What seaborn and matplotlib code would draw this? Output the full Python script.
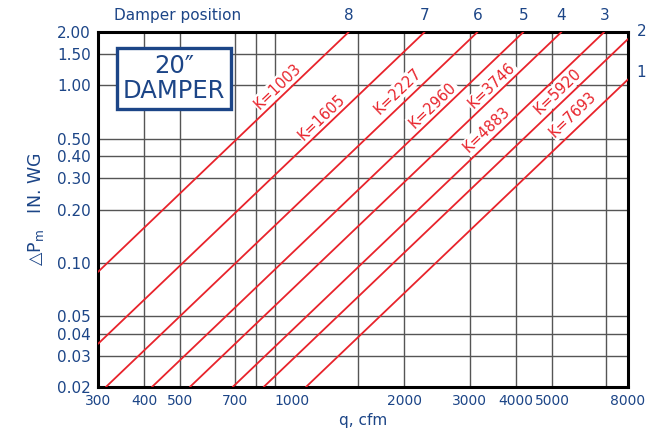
import numpy as np
import pandas as pd
import matplotlib
matplotlib.use("Agg")
import matplotlib.pyplot as plt
import matplotlib.transforms as mtransforms
import seaborn as sns

# curvas do damper 20"
K_LABELS = ["K=1003", "K=1605", "K=2227", "K=2960", "K=3746", "K=4883", "K=5920", "K=7693"]
Q_START = [300, 300, 315, 419, 530, 691, 837, 1088]
DP_START = [0.089, 0.035, 0.02, 0.02, 0.02, 0.02, 0.02, 0.02]
Q_END = [1418, 2270, 3150, 4186, 5298, 6906, 8000, 8000]
DP_END = [2.0, 2.0, 2.0, 2.0, 2.0, 2.0, 1.826, 1.081]
POSITIONS = ["8", "7", "6", "5", "4", "3", "2", "1"]

# posicao dos rotulos K=
LABEL_Q = [915, 1202, 1925, 2391, 3447, 3342, 5188, 5694]
LABEL_DP = [0.993, 0.664, 0.930, 0.776, 0.993, 0.561, 0.930, 0.690]

X_TICKS = [300, 400, 500, 700, 1000, 2000, 3000, 4000, 5000, 8000]
Y_TICKS = [0.02, 0.03, 0.04, 0.05, 0.10, 0.20, 0.30, 0.40, 0.50, 1.00, 1.50, 2.00]
X_GRID = [400, 500, 700, 800, 900, 1500, 2000, 3000, 4000, 5000, 7000]
Y_GRID = [0.03, 0.04, 0.05, 0.10, 0.20, 0.30, 0.40, 0.50, 1.00, 1.50]

BLUE = "#1c4587"
RED = "#e8232b"

rows = []
for lab, q0, d0, q1, d1 in zip(K_LABELS, Q_START, DP_START, Q_END, DP_END):
    rows.append({"K": lab, "q": q0, "dp": d0})
    rows.append({"K": lab, "q": q1, "dp": d1})
df = pd.DataFrame(rows)

sns.set_style("white")
plt.rcParams["font.family"] = ["DejaVu Sans"]

fig = plt.figure(figsize=(6.63, 4.37), dpi=100)
ax = fig.add_axes([98 / 663, 1 - 387 / 437, 530 / 663, 355 / 437])
ax.set_xscale("log")
ax.set_yscale("log")
ax.set_xlim(300, 8000)
ax.set_ylim(0.02, 2.0)

for xg in X_GRID:
    ax.axvline(xg, color="#555555", lw=1.0, zorder=1)
for yg in Y_GRID:
    ax.axhline(yg, color="#555555", lw=1.0, zorder=1)

sns.lineplot(data=df, x="q", y="dp", hue="K", palette=[RED] * len(K_LABELS),
             legend=False, lw=1.3, ax=ax, zorder=3)

ax.set_xticks(X_TICKS)
ax.set_xticklabels([str(v) for v in X_TICKS])
ax.set_yticks(Y_TICKS)
ax.set_yticklabels([f"{v:.2f}" for v in Y_TICKS])
ax.minorticks_off()
ax.tick_params(length=0, labelsize=11, labelcolor=BLUE, pad=5)
ax.tick_params(axis="x", labelsize=10)
for s in ax.spines.values():
    s.set_linewidth(2.2)
    s.set_color("black")

ax.set_xlabel("q, cfm", color=BLUE, fontsize=11, labelpad=4)
ax.set_ylabel("$\\mathregular{\\bigtriangleup P_m}$   IN. WG", color=BLUE, fontsize=12.5, labelpad=8)

# angulo das linhas na tela
p0 = ax.transData.transform((Q_START[3], DP_START[3]))
p1 = ax.transData.transform((Q_END[3], DP_END[3]))
ang = np.degrees(np.arctan2(p1[1] - p0[1], p1[0] - p0[0]))

for lab, lq, ld in zip(K_LABELS, LABEL_Q, LABEL_DP):
    ax.text(lq, ld, lab, color=RED, fontsize=10.5, rotation=ang,
            ha="center", va="center", rotation_mode="anchor", zorder=2,
            bbox=dict(facecolor="white", edgecolor="none", pad=1.0))

# posicoes do damper no topo
top = mtransforms.blended_transform_factory(ax.transData, ax.transAxes)
side = mtransforms.blended_transform_factory(ax.transAxes, ax.transData)
for pos, q1, d1 in zip(POSITIONS, Q_END, DP_END):
    if d1 >= 2.0:
        ax.text(q1, 1.025, pos, transform=top, color=BLUE, fontsize=11,
                ha="center", va="bottom")
    else:
        ax.text(1.025, d1 * 1.1, pos, transform=side, color=BLUE, fontsize=11,
                ha="center", va="center")
ax.text(0.15, 1.025, "Damper position", transform=ax.transAxes, color=BLUE,
        fontsize=11, ha="center", va="bottom")

# caixa 20" DAMPER
ax.text(0.143, 0.868, "20\u2033\nDAMPER", transform=ax.transAxes, color=BLUE,
        fontsize=17.5, ha="center", va="center", linespacing=1.05, zorder=4,
        bbox=dict(facecolor="white", edgecolor=BLUE, lw=2.4, boxstyle="square,pad=0.25"))

fig.savefig("out.png", dpi=100, facecolor="white")
